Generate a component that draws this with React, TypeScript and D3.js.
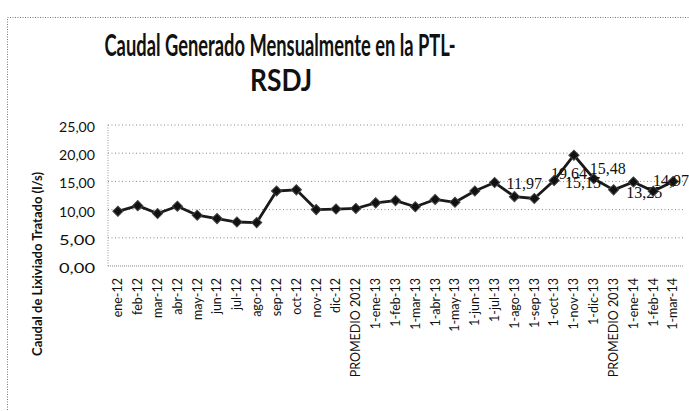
import React from "react";
import * as d3 from "d3";

const categories: string[] = [
  "ene-12", "feb-12", "mar-12", "abr-12", "may-12", "jun-12", "jul-12", "ago-12",
  "sep-12", "oct-12", "nov-12", "dic-12", "PROMEDIO 2012",
  "1-ene-13", "1-feb-13", "1-mar-13", "1-abr-13", "1-may-13", "1-jun-13", "1-jul-13",
  "1-ago-13", "1-sep-13", "1-oct-13", "1-nov-13", "1-dic-13", "PROMEDIO 2013",
  "1-ene-14", "1-feb-14", "1-mar-14",
];

const values: number[] = [
  9.7, 10.7, 9.3, 10.6, 9.0, 8.4, 7.8, 7.7,
  13.3, 13.5, 10.0, 10.1, 10.2,
  11.2, 11.6, 10.5, 11.8, 11.3, 13.3, 14.8,
  12.3, 11.97, 15.15, 19.64, 15.48, 13.5,
  14.9, 13.25, 14.97,
];

const labeledCategories: string[] = ["1-sep-13", "1-oct-13", "1-nov-13", "1-dic-13", "1-feb-14", "1-mar-14"];
const yTicks: number[] = [0, 5, 10, 15, 20, 25];
const titleLines: string[] = ["Caudal Generado Mensualmente en la PTL-", "RSDJ"];
const yAxisTitle = "Caudal de Lixiviado Tratado (l/s)";

// layout / style (not data)
const W = 689;
const H = 411;
const PL = 108, PR = 683, PT = 125, PB = 266;
const labelOffsets: [number, number][] = [[-10, -15], [29, 2], [-5, 18], [14, -10], [-9, 1], [-2, -1]];
const sans = "Lato, 'Open Sans', 'DejaVu Sans', sans-serif";

const fmt = (v: number) => d3.format(".2f")(v).replace(".", ",");

export default function App() {
  const x = d3.scaleBand<string>().domain(categories).range([PL, PR]).padding(0);
  const xc = (c: string) => (x(c) as number) + x.bandwidth() / 2;
  const y = d3.scaleLinear().domain([0, 25]).range([PB, PT]);

  const pts = categories.map((c, i) => ({ c, v: values[i] }));
  const line = d3.line<{ c: string; v: number }>().x((d) => xc(d.c)).y((d) => y(d.v));
  const diamond = d3.symbol().type(d3.symbolSquare).size(52)();

  return (
    <svg width={W} height={H} style={{ display: "block", position: "absolute", left: 0, top: 0, background: "#fff" }}>
      <rect x={0} y={0} width={W} height={H} fill="#fff" />
      {/* chart border */}
      <rect x={7.5} y={17.5} width={800} height={600} fill="none" stroke="#777" strokeWidth={1} strokeDasharray="1,1.5" />

      {/* title */}
      <text x={280} y={56} textAnchor="middle" fontFamily={sans} fontWeight={700} fontSize={30}
        textLength={351} lengthAdjust="spacingAndGlyphs" fill="#111">{titleLines[0]}</text>
      <text x={281} y={91} textAnchor="middle" fontFamily={sans} fontWeight={700} fontSize={30}
        textLength={62} lengthAdjust="spacingAndGlyphs" fill="#111">{titleLines[1]}</text>

      {/* gridlines */}
      {yTicks.map((t) => (
        <line key={"g" + t} x1={PL} x2={PR} y1={y(t)} y2={y(t)} stroke="#888" strokeWidth={1}
          strokeDasharray={t === 0 ? "1,1" : "1,2.5"} />
      ))}
      <line x1={PL} x2={PL} y1={PT} y2={PB} stroke="#999" strokeWidth={1} strokeDasharray="1,1.5" />

      {/* y tick labels */}
      {yTicks.map((t) => (
        <text key={"yt" + t} x={95} y={y(t) + 2} dy="0.35em" textAnchor="end" fontFamily={sans} fontSize={14}
          textLength={36} lengthAdjust="spacingAndGlyphs" fill="#111">{fmt(t)}</text>
      ))}

      {/* y axis title */}
      <text transform={`translate(42,264) rotate(-90)`} textAnchor="middle" fontFamily={sans} fontWeight={700}
        fontSize={13} textLength={184} lengthAdjust="spacingAndGlyphs" fill="#111">{yAxisTitle}</text>

      {/* x labels */}
      {categories.map((c) => (
        <text key={"xl" + c} transform={`translate(${xc(c)},278) rotate(-90)`} dy="0.35em" textAnchor="end"
          fontFamily={sans} fontSize={12.5} fill="#111">{c}</text>
      ))}

      {/* series */}
      <path d={line(pts) || ""} fill="none" stroke="#1a1a1a" strokeWidth={2.8} strokeLinejoin="round" />
      {pts.map((p) => (
        <path key={"m" + p.c} d={diamond || ""} transform={`translate(${xc(p.c)},${y(p.v)}) rotate(45)`}
          fill="#111" stroke="#444" strokeWidth={1} />
      ))}

      {/* data labels */}
      {labeledCategories.map((c, i) => {
        const v = values[categories.indexOf(c)];
        return (
          <text key={"dl" + c} x={xc(c) + labelOffsets[i][0]} y={y(v) + labelOffsets[i][1]} dy="0.35em"
            textAnchor="middle" fontFamily="'Liberation Serif', 'DejaVu Serif', serif" fontSize={16} fill="#111">
            {fmt(v)}
          </text>
        );
      })}
    </svg>
  );
}
